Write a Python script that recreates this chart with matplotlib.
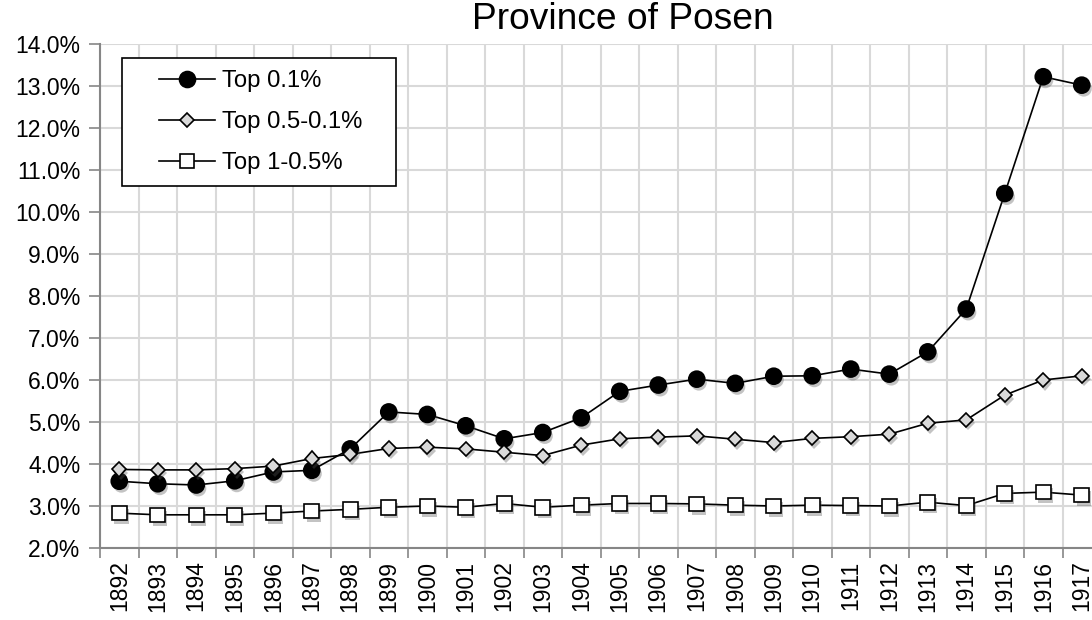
import matplotlib
matplotlib.use("Agg")
import matplotlib.pyplot as plt
import matplotlib.patheffects as pe
from matplotlib.patches import Rectangle
from matplotlib.ticker import FixedLocator, FuncFormatter
import numpy as np

plt.rcParams['font.family'] = ['Liberation Sans', 'DejaVu Sans']

years = [str(y) for y in range(1892, 1918)]
top_01 = [3.59, 3.53, 3.50, 3.60, 3.81, 3.85, 4.36, 5.24, 5.18, 4.91, 4.60, 4.75,
          5.10, 5.73, 5.88, 6.02, 5.92, 6.09, 6.10, 6.26, 6.14, 6.67, 7.69, 10.44,
          13.22, 13.02]
top_05_01 = [3.87, 3.86, 3.86, 3.89, 3.95, 4.13, 4.23, 4.37, 4.40, 4.36, 4.28, 4.20,
             4.45, 4.60, 4.64, 4.67, 4.59, 4.51, 4.61, 4.65, 4.71, 4.97, 5.05, 5.64,
             6.00, 6.10]
top_1_05 = [2.83, 2.79, 2.79, 2.79, 2.83, 2.88, 2.92, 2.97, 3.00, 2.97, 3.06, 2.97,
            3.02, 3.06, 3.06, 3.05, 3.02, 3.00, 3.02, 3.01, 3.00, 3.09, 3.01, 3.30,
            3.33, 3.26]
series_labels = ['Top 0.1%', 'Top 0.5-0.1%', 'Top 1-0.5%']
title = 'Province of Posen'

W, H = 1092, 620
fig = plt.figure(figsize=(W / 100, H / 100), dpi=100)
left_px, right_px = 100, 1101
bot_px, top_px = 548, 44
ax = fig.add_axes([left_px / W, 1 - bot_px / H, (right_px - left_px) / W, (bot_px - top_px) / H])

x = np.arange(len(years))
shadow = [pe.SimplePatchShadow(offset=(1.5, -2.5), shadow_rgbFace='#555555', alpha=0.35), pe.Normal()]

styles = [
    dict(marker='o', ms=11.5, mfc='black', mec='black', mew=1.2),
    dict(marker='D', ms=7.2, mfc='#d9d9d9', mec='black', mew=1.2),
    dict(marker='s', ms=10.5, mfc='white', mec='black', mew=1.2),
]
handles = []
for vals, st, lab in zip([top_01, top_05_01, top_1_05], styles, series_labels):
    ax.plot(x, vals, color='black', lw=1.2, zorder=3)
    ax.plot(x, vals, linestyle='none', zorder=4, path_effects=shadow, **st)
    h, = ax.plot([], [], color='black', lw=1.2, label=lab, **st)
    handles.append(h)

ax.set_xlim(-0.5, len(years) - 0.5)
ax.set_ylim(2.0, 14.0)
ax.set_yticks(np.arange(2, 14.01, 1.0))
ax.yaxis.set_major_formatter(FuncFormatter(lambda v, p: f"{v:.1f}%"))
ax.set_xticks(x)
ax.set_xticklabels(years, rotation=90)
ax.xaxis.set_minor_locator(FixedLocator(np.arange(-0.5, len(years), 1.0)))

ax.tick_params(axis='x', which='major', length=0, pad=9, labelsize=16.5)
ax.tick_params(axis='x', which='minor', length=7, width=1.2, color='#868686', direction='out')
ax.tick_params(axis='y', which='major', length=8, width=1.2, color='#868686', direction='out',
               pad=6, labelsize=16.5)

ax.grid(True, axis='y', which='major', color='#d9d9d9', lw=1.5, zorder=0)
ax.grid(True, axis='x', which='minor', color='#d9d9d9', lw=1.5, zorder=0)
ax.set_axisbelow(True)
for s in ['top', 'right']:
    ax.spines[s].set_visible(False)
for s in ['left', 'bottom']:
    ax.spines[s].set_color('#868686')
    ax.spines[s].set_linewidth(1.5)

fig.text(623 / W, 1 - 29 / H, title, ha='center', va='baseline', fontsize=26.7)

# legend frame drawn as a box in figure coordinates, below the (frameless) legend
ax.add_patch(Rectangle((122 / W, 1 - 186 / H), (396 - 122) / W, (186 - 58) / H,
                       transform=fig.transFigure, facecolor='white', edgecolor='black',
                       lw=1.2, zorder=9, clip_on=False))
leg = ax.legend(handles=handles, loc='center left',
                bbox_to_anchor=(159 / W, 1 - 122 / H), bbox_transform=fig.transFigure,
                borderaxespad=0, borderpad=0, frameon=False,
                fontsize=17.2, handlelength=2.35, handletextpad=0.3, labelspacing=0.8)
leg.set_zorder(10)

fig.savefig('out.png', dpi=100)
